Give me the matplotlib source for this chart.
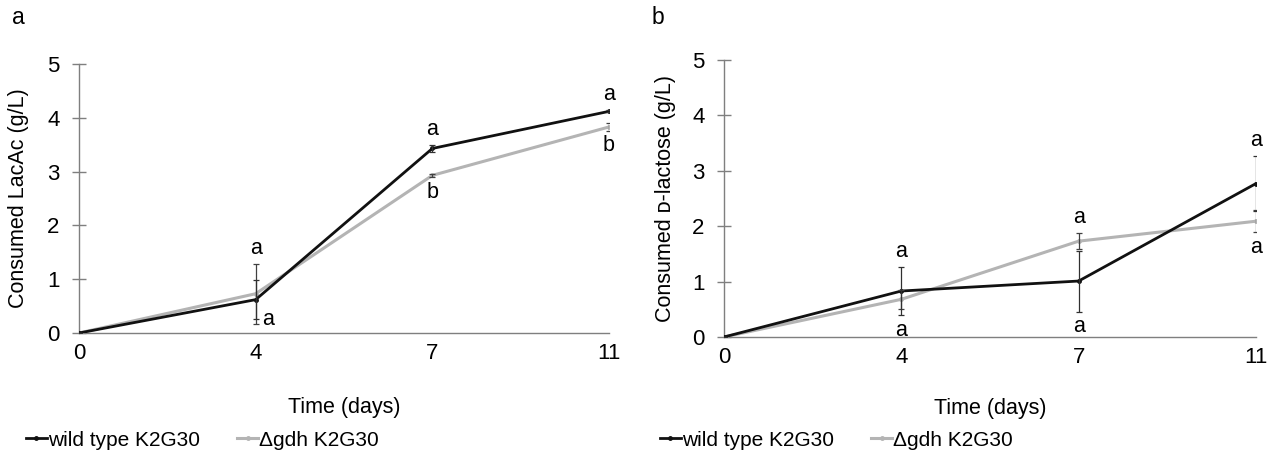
import matplotlib
matplotlib.use("Agg")
import matplotlib.pyplot as plt
from matplotlib.lines import Line2D

plt.rcParams['font.family'] = ['Liberation Sans', 'DejaVu Sans']

# 数据
days = ['0', '4', '7', '11']

# a: LacAc
lacac_wt = [0, 0.62, 3.43, 4.12]
lacac_wt_err = [0, 0.36, 0.07, 0.02]
lacac_gdh = [0, 0.73, 2.93, 3.83]
lacac_gdh_err = [0, 0.56, 0.03, 0.07]
lacac_letters_wt = ['', 'a', 'a', 'a']
lacac_letters_gdh = ['', 'a', 'b', 'b']

# b: D-lactose
lactose_wt = [0, 0.83, 1.01, 2.77]
lactose_wt_err = [0, 0.44, 0.55, 0.50]
lactose_gdh = [0, 0.68, 1.73, 2.09]
lactose_gdh_err = [0, 0.17, 0.15, 0.20]
lactose_letters_wt = ['', 'a', 'a', 'a']
lactose_letters_gdh = ['', 'a', 'a', 'a']

label_wt = 'wild type K2G30'
label_gdh = 'Δgdh K2G30'

FS = 15.5
BLACK = '#111111'
GREY = '#b4b4b4'
AXC = '#7f7f7f'

fig = plt.figure(figsize=(12.76, 4.53), dpi=100)


def draw_panel(ax, wt, wt_err, gdh, gdh_err, let_wt, let_gdh, ylabel, ylab_x, xlab_y):
    xs = list(range(len(days)))
    ax.plot(xs, gdh, color=GREY, lw=2.2, marker='o', ms=2.5, zorder=3)
    ax.plot(xs, wt, color=BLACK, lw=2.0, marker='o', ms=2.5, zorder=4)
    ax.errorbar(xs, gdh, yerr=gdh_err, fmt='none', ecolor='#404040', elinewidth=0.9,
                capsize=2, capthick=0.9, zorder=5)
    ax.errorbar(xs, wt, yerr=wt_err, fmt='none', ecolor='#303030', elinewidth=0.9,
                capsize=2, capthick=0.9, zorder=5)

    # 显著性字母
    for i in xs:
        if not let_wt[i]:
            continue
        top = max(wt[i] + wt_err[i], gdh[i] + gdh_err[i])
        bot = min(wt[i] - wt_err[i], gdh[i] - gdh_err[i])
        if wt[i] >= gdh[i]:
            up, down = let_wt[i], let_gdh[i]
        else:
            up, down = let_gdh[i], let_wt[i]
        ax.annotate(up, (i, top), xytext=(0, 11), textcoords='offset points',
                    ha='center', va='center', fontsize=FS)
        if bot - 0.27 < 0.1:
            ax.annotate(down, (i, max(bot, 0.0)), xytext=(9, 3), textcoords='offset points',
                        ha='center', va='center', fontsize=FS)
        else:
            ax.annotate(down, (i, bot), xytext=(0, -11), textcoords='offset points',
                        ha='center', va='center', fontsize=FS)

    ax.set_xlim(0, len(days) - 1)
    ax.set_ylim(0, 5)
    ax.set_xticks(xs)
    ax.set_xticklabels(days)
    ax.set_yticks(range(6))
    for s in ['top', 'right']:
        ax.spines[s].set_visible(False)
    for s in ['left', 'bottom']:
        ax.spines[s].set_color(AXC)
        ax.spines[s].set_linewidth(1.0)
    ax.tick_params(axis='y', direction='inout', length=10, width=1.0, color=AXC,
                   pad=9, labelsize=FS + 0.5)
    ax.tick_params(axis='x', length=0, pad=7, labelsize=FS + 0.5)
    ax.set_ylabel(ylabel, fontsize=FS)
    ax.yaxis.set_label_coords(ylab_x, 0.5)
    ax.set_xlabel('Time (days)', fontsize=FS)
    ax.xaxis.set_label_coords(0.5, xlab_y)


ax1 = fig.add_axes([0.0619, 0.2649, 0.4154, 0.5938])
draw_panel(ax1, lacac_wt, lacac_wt_err, lacac_gdh, lacac_gdh_err,
           lacac_letters_wt, lacac_letters_gdh, 'Consumed LacAc (g/L)', -0.095, -0.238)

ax2 = fig.add_axes([0.5674, 0.2561, 0.4169, 0.6114])
draw_panel(ax2, lactose_wt, lactose_wt_err, lactose_gdh, lactose_gdh_err,
           lactose_letters_wt, lactose_letters_gdh, 'Consumed ᴅ-lactose (g/L)', -0.09, -0.22)

fig.text(18 / 1276, 1 - 18 / 453, 'a', fontsize=FS + 1, ha='center', va='center')
fig.text(658 / 1276, 1 - 18 / 453, 'b', fontsize=FS + 1, ha='center', va='center')

# 图例
handles = [Line2D([], [], color=BLACK, lw=2.0, marker='o', ms=2.5),
           Line2D([], [], color=GREY, lw=2.2, marker='o', ms=2.5)]
for x0 in [26 / 1276, 660 / 1276]:
    fig.legend(handles, [label_wt, label_gdh], loc='center left',
               bbox_to_anchor=(x0, 1 - 440 / 453), ncol=2, frameon=False,
               fontsize=FS - 0.5, handlelength=1.0, handletextpad=0.05, columnspacing=1.8,
               borderpad=0, borderaxespad=0)

fig.savefig('out.png', dpi=100)
